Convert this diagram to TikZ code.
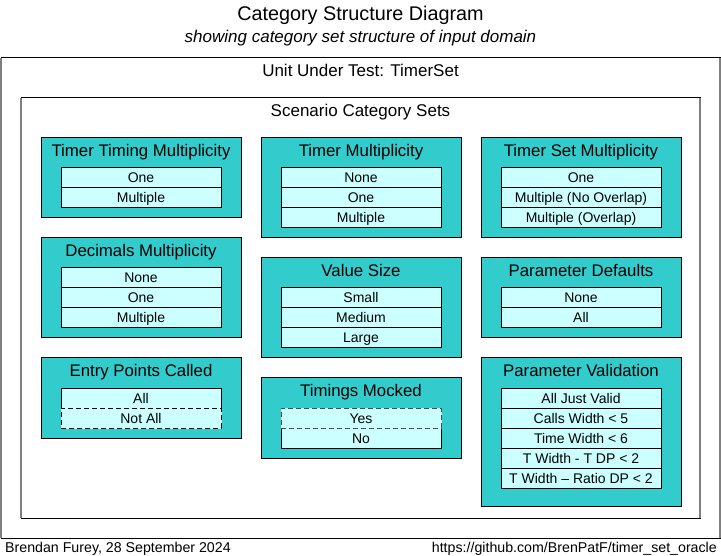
\documentclass[tikz,border=0pt]{standalone}
\usepackage{fontspec}
\setmainfont{Liberation Sans}
\usetikzlibrary{positioning}
\definecolor{setteal}{HTML}{33CCCC}
\definecolor{valcyan}{HTML}{CCFFFF}
\definecolor{edgegray}{HTML}{808080}
\tikzstyle{unitframe} = [rectangle, draw=black, line width=1pt, anchor=north west, inner sep=0pt, outer sep=0pt]
\tikzstyle{framelabel} = [inner sep=0pt, text height=12pt, text depth=0pt, font=\fontsize{17}{20}\selectfont]
\tikzstyle{catset} = [rectangle, draw=black, fill=setteal, line width=1pt, minimum width=200pt, anchor=north west, inner sep=0pt, outer sep=0pt]
\tikzstyle{cathead} = [inner sep=0pt, text height=12pt, text depth=0pt, font=\fontsize{16.8}{18}\selectfont]
\tikzstyle{catval} = [rectangle, draw=black, fill=valcyan, line width=1pt, minimum width=160pt, minimum height=20pt, inner sep=0pt, outer sep=0pt, text height=10pt, text depth=0pt, font=\fontsize{14}{16}\selectfont]
\tikzstyle{dashval} = [catval, dash pattern=on 5pt off 3pt, preaction={draw=valcyan, solid}]
\tikzstyle{edge} = [edgegray, line width=1.5pt]

\begin{document}
\begin{tikzpicture}[x=1pt, y=-1pt]
 \useasboundingbox (0,0) rectangle (721,556);

 % titles
 \node (title) [anchor=base, font=\fontsize{19.8}{24}\selectfont] at (360.5,21) {Category Structure Diagram};
 \node (subtitle) [anchor=base, font=\itshape\fontsize{17}{19}\selectfont] at (360.5,42.5) {showing category set structure of input domain};

 % frames
 \node (uut) [unitframe, minimum width=719pt, minimum height=480pt] at (1,58) {};
 \node (uuth) [framelabel, below=6pt of uut.north] {Unit Under Test: TimerSet};
 \node (scs) [unitframe, minimum width=679pt, minimum height=420pt] at (21,98) {};
 \node (scsh) [framelabel, below=6pt of scs.north] {Scenario Category Sets};
 \draw [edge] (uut.north west) -- (uut.south west);
 \draw [edge] (uut.north east) -- (uut.south east);
 \draw [edge] (scs.north west) -- (scs.south west);
 \draw [edge] (scs.north east) -- (scs.south east);

 % column 1
 \node (ttm) [catset, minimum height=80pt] at (41,138) {};
 \node (ttmh) [cathead, below=6pt of ttm.north] {Timer Timing Multiplicity};
 \node (ttm1) [catval, below=30pt of ttm.north] {One};
 \node (ttm2) [catval, below=0pt of ttm1] {Multiple};

 \node (dm) [catset, minimum height=100pt] at (41,238) {};
 \node (dmh) [cathead, below=6pt of dm.north] {Decimals Multiplicity};
 \node (dm1) [catval, below=30pt of dm.north] {None};
 \node (dm2) [catval, below=0pt of dm1] {One};
 \node (dm3) [catval, below=0pt of dm2] {Multiple};

 \node (epc) [catset, minimum height=80pt] at (41,358) {};
 \node (epch) [cathead, below=6pt of epc.north] {Entry Points Called};
 \node (epc1) [catval, below=30pt of epc.north] {All};
 \node (epc2) [dashval, below=0pt of epc1] {Not All};

 % column 2
 \node (tm) [catset, minimum height=100pt] at (261,138) {};
 \node (tmh) [cathead, below=6pt of tm.north] {Timer Multiplicity};
 \node (tm1) [catval, below=30pt of tm.north] {None};
 \node (tm2) [catval, below=0pt of tm1] {One};
 \node (tm3) [catval, below=0pt of tm2] {Multiple};

 \node (vs) [catset, minimum height=100pt] at (261,258) {};
 \node (vsh) [cathead, below=6pt of vs.north] {Value Size};
 \node (vs1) [catval, below=30pt of vs.north] {Small};
 \node (vs2) [catval, below=0pt of vs1] {Medium};
 \node (vs3) [catval, below=0pt of vs2] {Large};

 \node (tmk) [catset, minimum height=80pt] at (261,378) {};
 \node (tmkh) [cathead, below=6pt of tmk.north] {Timings Mocked};
 \node (tmk2) [catval, below=50pt of tmk.north] {No};
 \node (tmk1) [dashval, draw=black!70, above=0pt of tmk2] {Yes};

 % column 3
 \node (tsm) [catset, minimum height=100pt] at (481,138) {};
 \node (tsmh) [cathead, below=6pt of tsm.north] {Timer Set Multiplicity};
 \node (tsm1) [catval, below=30pt of tsm.north] {One};
 \node (tsm2) [catval, below=0pt of tsm1] {Multiple (No Overlap)};
 \node (tsm3) [catval, below=0pt of tsm2] {Multiple (Overlap)};

 \node (pd) [catset, minimum height=80pt] at (481,258) {};
 \node (pdh) [cathead, below=6pt of pd.north] {Parameter Defaults};
 \node (pd1) [catval, below=30pt of pd.north] {None};
 \node (pd2) [catval, below=0pt of pd1] {All};

 \node (pv) [catset, minimum height=148pt] at (481,358) {};
 \node (pvh) [cathead, below=6pt of pv.north] {Parameter Validation};
 \node (pv1) [catval, below=30pt of pv.north] {All Just Valid};
 \node (pv2) [catval, below=0pt of pv1] {Calls Width < 5};
 \node (pv3) [catval, below=0pt of pv2] {Time Width < 6};
 \node (pv4) [catval, below=0pt of pv3] {T Width - T DP < 2};
 \node (pv5) [catval, below=0pt of pv4] {T Width – Ratio DP < 2};

 % footer
 \node (author) [anchor=base west, inner sep=0pt, font=\fontsize{14.2}{16}\selectfont] at (5,552) {Brendan Furey, 28 September 2024};
 \node (repo) [anchor=base east, inner sep=0pt, font=\fontsize{14.2}{16}\selectfont] at (717,552) {https://github.com/BrenPatF/timer\_set\_oracle};
\end{tikzpicture}
\end{document}
